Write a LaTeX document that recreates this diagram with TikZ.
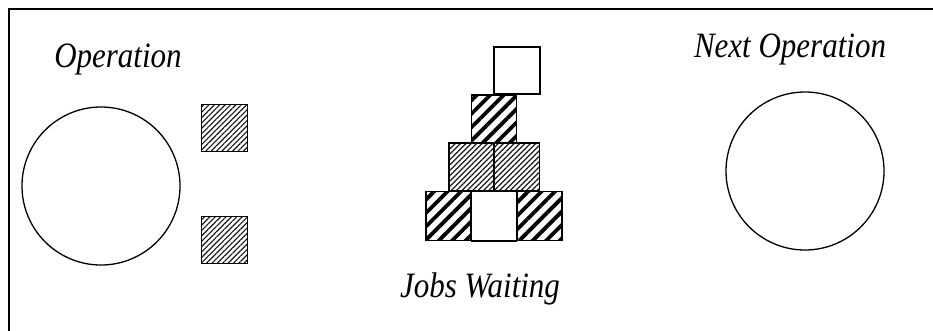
\documentclass[tikz,border=0pt]{standalone}
\usepackage{fontspec}
\setmainfont{Liberation Serif}
\usetikzlibrary{patterns.meta}
\tikzset{
  job/.style={draw=black, line width=1.8pt, rectangle, inner sep=0pt, fill=white},
  fine/.style={job, pattern={Lines[angle=45,distance=3.8pt,line width=1.2pt]}, pattern color=black!90},
  bold/.style={job, pattern={Lines[angle=45,distance=9.5pt,line width=3.8pt]}},
  plain/.style={job},
  machine/.style={draw=black, line width=1.3pt, circle, minimum size=158pt, inner sep=0pt},
  lbl/.style={anchor=base, inner sep=0pt, font=\fontsize{31}{36}\selectfont\itshape}
}
\newcommand{\stretchtxt}[1]{\scalebox{1}[1.15]{#1}}
\begin{document}
\begin{tikzpicture}[x=1pt,y=-1pt]
\useasboundingbox (0,0) rectangle (933,330);
\fill[white] (0,0) rectangle (933,330);
\draw[line width=1.5pt] (9,345) -- (9,9) -- (945,9);
% machines
\node[machine] (op) at (101,186) {};
\node[machine] (next) at (805,171) {};
% jobs near operation
\node[fine, minimum width=46pt, minimum height=47pt] (j1) at (224.5,128) {};
\node[fine, minimum width=46pt, minimum height=47pt] (j2) at (224.5,240) {};
% stack of waiting jobs
\node[bold, minimum width=45pt, minimum height=49pt] (b1) at (448.5,216) {};
\node[bold, minimum width=45pt, minimum height=49pt] (b3) at (539.5,216) {};
\node[fine, minimum width=45pt, minimum height=48pt] (c1) at (471.5,167) {};
\node[fine, minimum width=45pt, minimum height=48pt] (c2) at (517,167) {};
\node[plain, minimum width=45pt, minimum height=50pt] (b2) at (494,216) {};
\node[bold, minimum width=45pt, minimum height=48pt] (r2) at (494,119) {};
\node[plain, minimum width=46pt, minimum height=47pt] (top) at (517,70.5) {};
% labels
\node[lbl] (t1) at (118,67) {\stretchtxt{Operation}};
\node[lbl] (t2) at (790,57) {\stretchtxt{Next Operation}};
\node[lbl] (t3) at (480,297) {\stretchtxt{Jobs Waiting}};
\end{tikzpicture}
\end{document}
